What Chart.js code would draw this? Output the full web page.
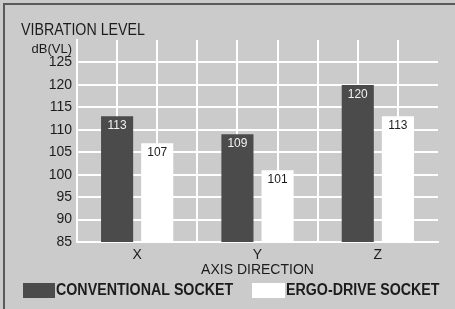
<!DOCTYPE html>
<html>
<head>
<meta charset="utf-8">
<script src="https://cdn.jsdelivr.net/npm/chart.js@4/dist/chart.umd.min.js"></script>
<style>
  html, body { margin: 0; padding: 0; background: #cbcbcb; }
  #wrap { width: 455px; height: 309px; }
</style>
</head>
<body>
<div id="wrap"><canvas id="vibChart" width="455" height="309"></canvas></div>
<script>
// data
var categories   = ['X', 'Y', 'Z'];
var conventional = [113, 109, 120];
var ergoDrive    = [107, 101, 113];
var seriesNames  = ['CONVENTIONAL SOCKET', 'ERGO-DRIVE SOCKET'];
var yMin = 85, yMax = 130, yStep = 5, yTopLabel = 125;

var FONT = "'Liberation Sans', Arial, Helvetica, sans-serif";
var DARK = '#4b4b4b';
var INK = '#1c1c1c';

// narrow text, like the Helvetica Condensed of the original
function narrowText(ctx, txt, x, y, k) {
  ctx.save();
  ctx.translate(x, y);
  ctx.scale(k, 1);
  ctx.fillText(txt, 0, 0);
  ctx.restore();
}

// frame, title, unit, bar values and legend
var decor = {
  id: 'decor',
  beforeDraw: function (chart) {
    var ctx = chart.ctx;
    ctx.save();
    ctx.fillStyle = '#cbcbcb';
    ctx.fillRect(0, 0, chart.width, chart.height);
    ctx.strokeStyle = '#5a5a5a';
    ctx.lineWidth = 2;
    ctx.beginPath();
    ctx.moveTo(4, chart.height);
    ctx.lineTo(4, 4);
    ctx.lineTo(chart.width, 4);
    ctx.stroke();
    ctx.restore();
  },
  afterDraw: function (chart) {
    var ctx = chart.ctx;
    var area = chart.chartArea;
    ctx.save();
    ctx.fillStyle = INK;
    ctx.textBaseline = 'alphabetic';
    ctx.textAlign = 'left';
    ctx.font = '16px ' + FONT;
    narrowText(ctx, 'VIBRATION LEVEL', 21, 35, 0.89);
    ctx.textAlign = 'right';
    ctx.font = '13px ' + FONT;
    ctx.fillText('dB(VL)', area.left - 5, 53);

    // values on top of each bar
    ctx.textAlign = 'center';
    ctx.textBaseline = 'top';
    ctx.font = '13px ' + FONT;
    chart.data.datasets.forEach(function (ds, i) {
      chart.getDatasetMeta(i).data.forEach(function (bar, j) {
        ctx.fillStyle = i === 0 ? '#f2f2f2' : INK;
        narrowText(ctx, String(ds.data[j]), bar.x, bar.y + 3, 0.92);
      });
    });

    // legend
    ctx.textAlign = 'left';
    ctx.textBaseline = 'middle';
    ctx.font = 'bold 16px ' + FONT;
    var ly = 290.5;
    ctx.fillStyle = DARK;
    ctx.fillRect(23, ly - 7.5, 32, 15);
    ctx.fillStyle = INK;
    narrowText(ctx, seriesNames[0], 56, ly, 0.89);
    ctx.fillStyle = '#ffffff';
    ctx.fillRect(252, ly - 7.5, 33, 15);
    ctx.fillStyle = INK;
    narrowText(ctx, seriesNames[1], 286, ly, 0.89);
    ctx.restore();
  }
};

new Chart(document.getElementById('vibChart'), {
  type: 'bar',
  data: {
    labels: categories,
    datasets: [
      { label: seriesNames[0], data: conventional, backgroundColor: DARK, xAxisID: 'x', yAxisID: 'y' },
      { label: seriesNames[1], data: ergoDrive, backgroundColor: '#ffffff', xAxisID: 'x', yAxisID: 'y' }
    ]
  },
  options: {
    responsive: false,
    animation: false,
    categoryPercentage: 0.667,
    barPercentage: 0.8,
    layout: { padding: { top: 40, right: 17, bottom: 30, left: 0 } },
    plugins: {
      legend: { display: false },
      title: { display: false },
      tooltip: { enabled: false }
    },
    scales: {
      x: {
        position: 'bottom',
        grid: { display: false, drawTicks: false },
        border: { display: true, color: '#ffffff', width: 2 },
        ticks: { color: INK, font: { family: FONT, size: 14 }, padding: 5 },
        title: { display: true, text: 'AXIS DIRECTION', color: INK, font: { family: FONT, size: 14 }, padding: 0 },
        afterFit: function (scale) { scale.height = 37; }
      },
      xg: {
        type: 'linear',
        position: 'bottom',
        offset: false,
        min: 0, max: 9,
        ticks: { display: false, stepSize: 1 },
        grid: {
          offset: false,
          drawTicks: false,
          lineWidth: 2,
          color: function (c) { return c.tick && c.tick.value === 9 ? 'rgba(0,0,0,0)' : '#ffffff'; }
        },
        border: { display: false },
        afterFit: function (scale) { scale.height = 0; }
      },
      y: {
        min: yMin, max: yMax,
        ticks: {
          stepSize: yStep,
          color: INK,
          padding: 5,
          font: { family: FONT, size: 14 },
          callback: function (v) { return v > yTopLabel ? '' : v; }
        },
        grid: {
          drawTicks: false,
          lineWidth: 2,
          color: function (c) { return c.tick && c.tick.value > yTopLabel ? 'rgba(0,0,0,0)' : '#ffffff'; }
        },
        border: { display: true, color: '#ffffff', width: 2 },
        afterFit: function (scale) { scale.width = 77; }
      }
    }
  },
  plugins: [decor]
});
</script>
</body>
</html>
